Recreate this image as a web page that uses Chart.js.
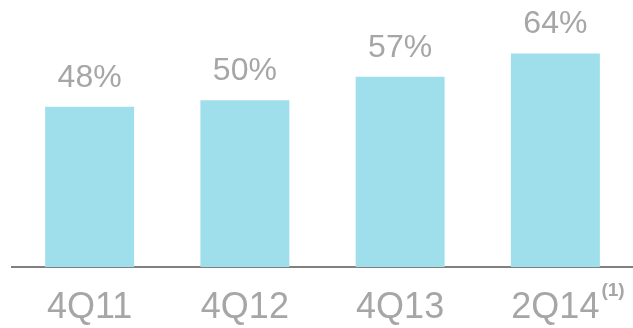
<!DOCTYPE html>
<html>
<head>
<meta charset="utf-8">
<script src="https://cdn.jsdelivr.net/npm/chart.js@4"></script>
<style>
  html, body { margin: 0; padding: 0; background: #fff; }
  #wrap { width: 633px; height: 328px; }
</style>
</head>
<body>
<div id="wrap"><canvas id="barChart"></canvas></div>
<script>
var categories = ['4Q11', '4Q12', '4Q13', '2Q14'];
var values = [48, 50, 57, 64];
var valueLabels = ['48%', '50%', '57%', '64%'];
var footnotes = ['', '', '', '(1)'];

var grey = '#A6A6A6';
var fontFamily = 'Arial, "Liberation Sans", sans-serif';
var tickSize = 36;

// value labels above the bars + footnote marker after the last tick
var labelPlugin = {
  id: 'labels',
  afterDatasetsDraw: function(chart) {
    var ctx = chart.ctx;
    var meta = chart.getDatasetMeta(0);
    ctx.save();
    ctx.fillStyle = grey;
    ctx.font = '32px ' + fontFamily;
    ctx.textAlign = 'center';
    ctx.textBaseline = 'alphabetic';
    meta.data.forEach(function(bar, i) {
      ctx.fillText(valueLabels[i], bar.x, bar.y - 20);
    });
    // footnotes
    var xScale = chart.scales.x;
    ctx.textAlign = 'left';
    for (var i = 0; i < footnotes.length; i++) {
      if (!footnotes[i]) continue;
      ctx.font = tickSize + 'px ' + fontFamily;
      var w = ctx.measureText(categories[i]).width;
      var x = xScale.getPixelForValue(i) + w / 2 + 2;
      ctx.font = 'bold 19px ' + fontFamily;
      ctx.fillText(footnotes[i], x, 296);
    }
    ctx.restore();
  }
};

new Chart(document.getElementById('barChart'), {
  type: 'bar',
  data: {
    labels: categories,
    datasets: [{
      data: values,
      backgroundColor: '#9EDFEB',
      borderWidth: 0,
      barPercentage: 0.573,
      categoryPercentage: 1
    }]
  },
  options: {
    responsive: true,
    maintainAspectRatio: false,
    animation: false,
    layout: { padding: { left: 12, right: 0, top: 0, bottom: 0 } },
    plugins: {
      legend: { display: false },
      tooltip: { enabled: false }
    },
    scales: {
      x: {
        grid: { display: false, drawTicks: false },
        border: { display: true, color: '#808080', width: 2 },
        ticks: {
          color: grey,
          font: { family: fontFamily, size: tickSize },
          padding: 19
        },
        afterFit: function(scale) { scale.height = 61; }
      },
      y: {
        display: false,
        min: 0,
        max: 80
      }
    }
  },
  plugins: [labelPlugin]
});
</script>
</body>
</html>
